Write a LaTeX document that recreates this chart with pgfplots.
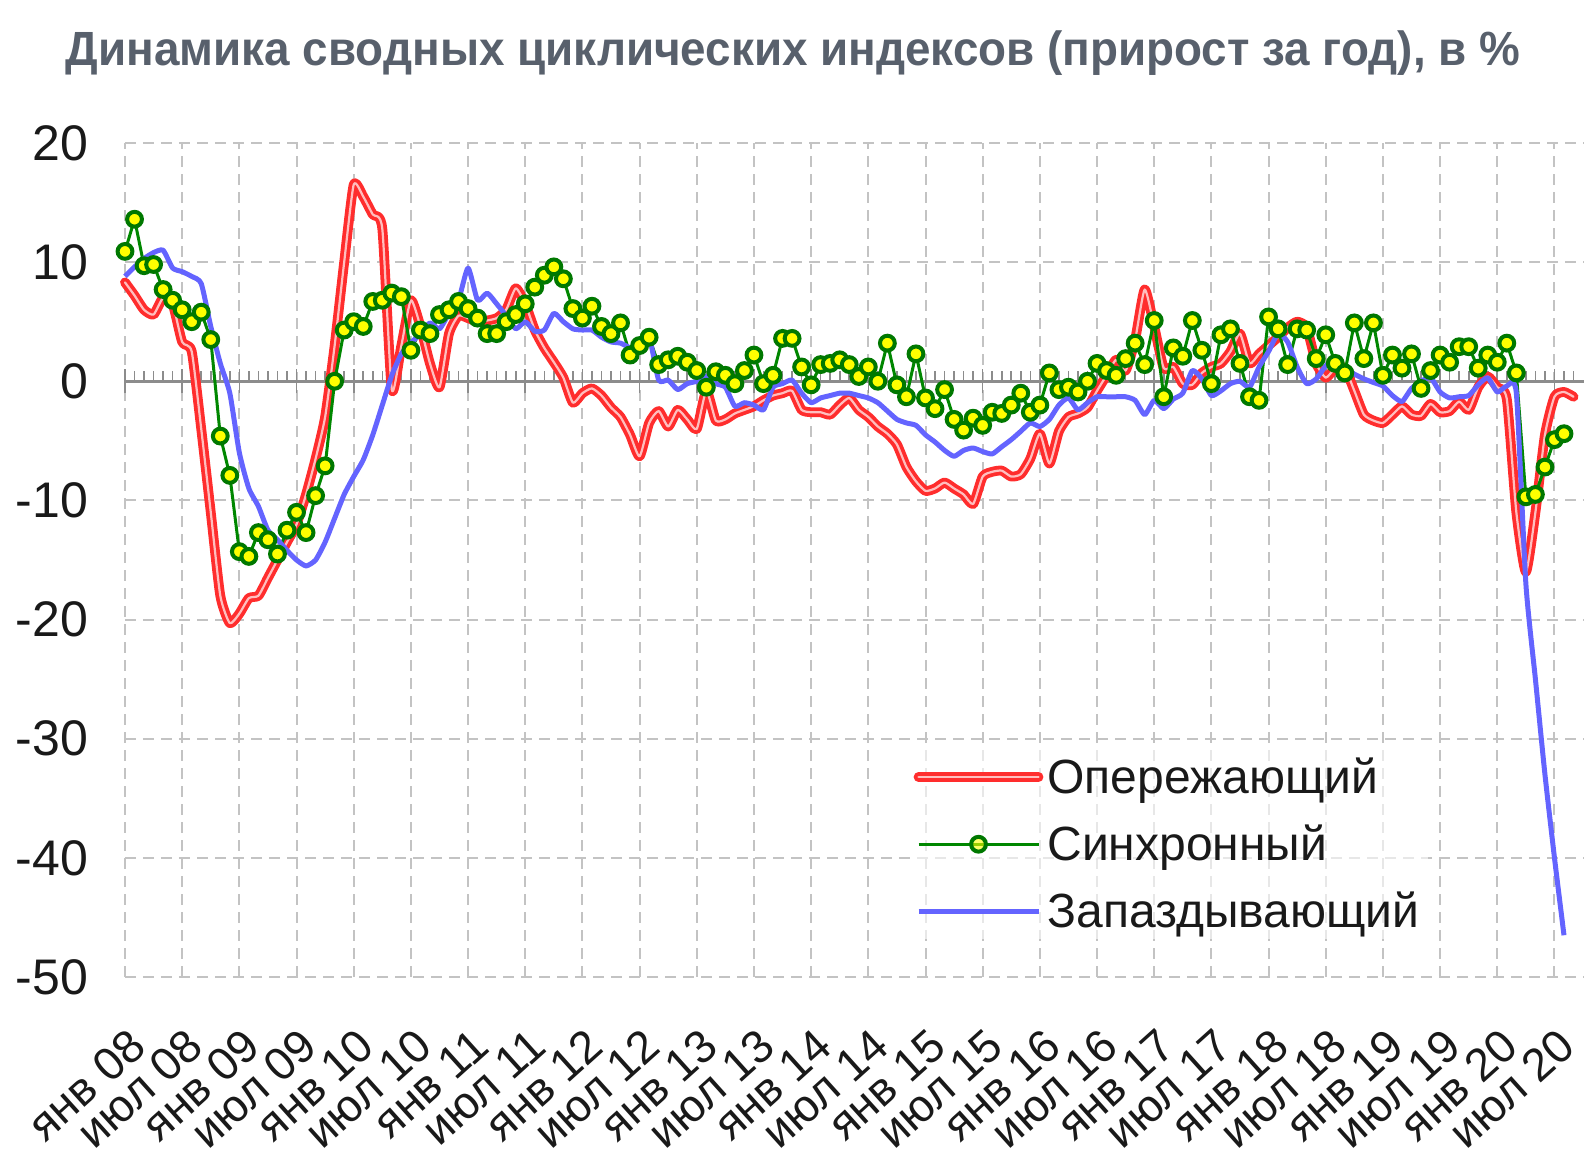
\documentclass[border=0pt]{standalone}
\usepackage{fontspec}
\setmainfont{Liberation Sans}
\usepackage{graphicx}
\usepackage{pgfplots}
\pgfplotsset{compat=1.18}
\definecolor{redc}{RGB}{255,45,45}
\definecolor{redin}{RGB}{255,190,190}
\definecolor{greenc}{RGB}{0,135,0}
\definecolor{markc}{RGB}{0,120,0}
\definecolor{yel}{RGB}{255,255,0}
\definecolor{bluec}{RGB}{100,100,255}
\definecolor{gridc}{RGB}{195,195,195}
\definecolor{zeroc}{RGB}{140,140,140}
\definecolor{titlec}{RGB}{88,96,108}
\definecolor{labc}{RGB}{25,25,25}
\begin{document}
\begin{tikzpicture}
\pgfplotsset{base/.style={scale only axis, width=729.5pt, height=417pt,
  xmin=0, xmax=153.1, ymin=-50, ymax=20}}
% grid and tick labels
\begin{axis}[base, axis line style={draw=none},
  xtick={0,6,...,150}, ytick={-50,-40,...,20},
  grid=major, grid style={gridc, line width=1pt, dash pattern=on 5.5pt off 3.5pt},
  major tick length=0pt,
  xticklabels={янв 08,июл 08,янв 09,июл 09,янв 10,июл 10,янв 11,июл 11,янв 12,июл 12,янв 13,июл 13,янв 14,июл 14,янв 15,июл 15,янв 16,июл 16,янв 17,июл 17,янв 18,июл 18,янв 19,июл 19,янв 20,июл 20},
  yticklabels={-50,-40,-30,-20,-10,0,10,20},
  yticklabel style={font=\fontsize{25}{29}\selectfont, text=labc, xshift=-15pt},
  xticklabel style={font=\fontsize{23}{27}\selectfont, text=labc, xshift=1pt, yshift=-23pt, rotate=42, anchor=north east, inner sep=1pt}]
\coordinate (ll) at (rel axis cs:0,0);
\coordinate (ur) at (rel axis cs:1,1);
\end{axis}
% zero line
\begin{axis}[base, axis x line=middle, axis y line=none,
  xtick={0,...,152}, xticklabels={}, ytick=\empty,
  tick align=inside, major tick length=5pt,
  tick style={color=zeroc, line width=0.8pt},
  extra x ticks={0,6,...,150}, extra x tick labels={},
  extra x tick style={tick align=center, major tick length=12pt},
  x axis line style={-, color=zeroc, line width=1.3pt}]
\end{axis}
% data
\begin{axis}[base, hide axis, clip=false,
  legend style={at={(0.5375,0.273)}, anchor=north west, draw=none,
    fill=white, fill opacity=0.6, text opacity=1,
    font=\fontsize{24}{28}\selectfont, text=labc,
    row sep=10.3pt, inner sep=2pt},
  legend cell align=left,
  legend image code/.code={\draw[mark repeat=2, mark phase=2, #1] plot coordinates {(0pt,0pt) (30pt,0pt) (60pt,0pt)};}]
\addplot[draw=redc, line width=1.9pt, double=redin, double distance=1.1pt, line join=round, line cap=round, smooth, tension=0.35] coordinates {
(0,8.3)(1,7.2)(2,6.0)(3,5.6)(4,7.0)(5,6.5)(6,3.3)(7,2.5)(8,-4)(9,-11)(10,-18)(11,-20.3)(12,-19.5)(13,-18.2)(14,-18.0)(15,-16.5)(16,-15.0)(17,-13.5)(18,-12.0)(19,-9.5)(20,-6.5)(21,-3.0)(22,3.0)(23,10.0)(24,16.5)(25,15.5)(26,14.0)(27,12.8)(28,-0.7)(29,3.0)(30,6.8)(31,4.6)(32,1.5)(33,-0.5)(34,4.0)(35,5.5)(36,5.3)(37,5.0)(38,5.1)(39,5.3)(40,6.0)(41,7.8)(42,6.5)(43,4.3)(44,2.8)(45,1.6)(46,0.3)(47,-1.8)(48,-1.0)(49,-0.6)(50,-1.2)(51,-2.2)(52,-3.0)(53,-4.5)(54,-6.3)(55,-3.5)(56,-2.5)(57,-3.8)(58,-2.4)(59,-3.2)(60,-4.0)(61,-0.8)(62,-3.3)(63,-3.2)(64,-2.7)(65,-2.4)(66,-2.1)(67,-1.6)(68,-1.2)(69,-1.0)(70,-0.8)(71,-2.4)(72,-2.6)(73,-2.6)(74,-2.8)(75,-2.0)(76,-1.4)(77,-2.4)(78,-3.0)(79,-3.8)(80,-4.4)(81,-5.3)(82,-7.2)(83,-8.4)(84,-9.2)(85,-9.0)(86,-8.5)(87,-9.0)(88,-9.5)(89,-10.3)(90,-8.0)(91,-7.6)(92,-7.5)(93,-8.0)(94,-7.8)(95,-6.5)(96,-4.4)(97,-6.9)(98,-4.2)(99,-3.0)(100,-2.7)(101,-2.2)(102,-0.8)(103,0.5)(104,1.8)(105,0.9)(106,3.5)(107,7.7)(108,4.6)(109,1.1)(110,1.2)(111,-0.2)(112,-0.3)(113,0.7)(114,1.2)(115,1.5)(116,2.5)(117,4.0)(118,1.5)(119,2.3)(120,3.0)(121,3.7)(122,4.5)(123,5.0)(124,4.5)(125,1.5)(126,0.3)(127,1.1)(128,1.1)(129,-0.8)(130,-2.8)(131,-3.3)(132,-3.5)(133,-2.8)(134,-2.1)(135,-2.8)(136,-2.9)(137,-1.9)(138,-2.6)(139,-2.5)(140,-1.7)(141,-2.4)(142,-0.5)(143,0.4)(144,-0.5)(145,-1.5)(146,-11)(147,-16)(148,-11)(149,-4.5)(150,-1.3)(151,-0.9)(152,-1.3)
};
\addlegendentry{Опережающий}
\addplot[draw=greenc, line width=1.5pt, mark=*, mark size=3.7pt, mark options={fill=yel, draw=markc, line width=2pt}] coordinates {
(0,10.9)(1,13.6)(2,9.7)(3,9.8)(4,7.7)(5,6.8)(6,6.0)(7,5.0)(8,5.8)(9,3.5)(10,-4.6)(11,-7.9)(12,-14.3)(13,-14.7)(14,-12.7)(15,-13.3)(16,-14.5)(17,-12.5)(18,-11.0)(19,-12.7)(20,-9.6)(21,-7.1)(22,0.0)(23,4.3)(24,5.0)(25,4.6)(26,6.7)(27,6.8)(28,7.4)(29,7.1)(30,2.6)(31,4.3)(32,4.0)(33,5.6)(34,6.0)(35,6.7)(36,6.1)(37,5.3)(38,4.0)(39,4.0)(40,5.0)(41,5.6)(42,6.5)(43,7.9)(44,8.9)(45,9.6)(46,8.6)(47,6.1)(48,5.3)(49,6.3)(50,4.6)(51,4.0)(52,4.9)(53,2.2)(54,3.0)(55,3.7)(56,1.4)(57,1.8)(58,2.1)(59,1.6)(60,0.9)(61,-0.5)(62,0.8)(63,0.5)(64,-0.2)(65,0.9)(66,2.2)(67,-0.2)(68,0.5)(69,3.6)(70,3.6)(71,1.2)(72,-0.3)(73,1.4)(74,1.5)(75,1.8)(76,1.4)(77,0.4)(78,1.2)(79,0.0)(80,3.2)(81,-0.3)(82,-1.3)(83,2.3)(84,-1.4)(85,-2.3)(86,-0.7)(87,-3.2)(88,-4.1)(89,-3.1)(90,-3.7)(91,-2.6)(92,-2.7)(93,-2.0)(94,-1.0)(95,-2.6)(96,-2.0)(97,0.7)(98,-0.7)(99,-0.5)(100,-0.9)(101,0.0)(102,1.5)(103,0.9)(104,0.5)(105,1.9)(106,3.2)(107,1.4)(108,5.1)(109,-1.3)(110,2.8)(111,2.1)(112,5.1)(113,2.6)(114,-0.2)(115,3.9)(116,4.4)(117,1.5)(118,-1.3)(119,-1.6)(120,5.4)(121,4.4)(122,1.4)(123,4.4)(124,4.3)(125,1.9)(126,3.9)(127,1.5)(128,0.7)(129,4.9)(130,1.9)(131,4.9)(132,0.5)(133,2.2)(134,1.1)(135,2.3)(136,-0.6)(137,0.9)(138,2.2)(139,1.6)(140,2.9)(141,2.9)(142,1.1)(143,2.2)(144,1.6)(145,3.2)(146,0.7)(147,-9.7)(148,-9.5)(149,-7.2)(150,-4.9)(151,-4.4)
};
\addlegendentry{Синхронный}
\addplot[draw=bluec, line width=2.5pt, line join=round, smooth, tension=0.35] coordinates {
(0,8.8)(1,9.6)(2,10.3)(3,10.8)(4,11.0)(5,9.5)(6,9.2)(7,8.8)(8,8.2)(9,4.6)(10,1.5)(11,-1.0)(12,-6.0)(13,-9.0)(14,-10.5)(15,-12.5)(16,-13.3)(17,-14.2)(18,-15.0)(19,-15.5)(20,-15.0)(21,-13.5)(22,-11.5)(23,-9.5)(24,-8.0)(25,-6.6)(26,-4.5)(27,-2.0)(28,0.5)(29,2.3)(30,3.2)(31,4.0)(32,4.9)(33,4.4)(34,5.7)(35,6.8)(36,9.5)(37,6.8)(38,7.4)(39,6.5)(40,5.5)(41,4.4)(42,5.0)(43,4.2)(44,4.3)(45,5.7)(46,5.0)(47,4.4)(48,4.3)(49,4.3)(50,3.7)(51,3.3)(52,3.2)(53,2.8)(54,2.6)(55,3.7)(56,0.1)(57,0.1)(58,-0.7)(59,-0.2)(60,0.0)(61,0.4)(62,-0.2)(63,-0.5)(64,-2.1)(65,-1.8)(66,-2.0)(67,-2.4)(68,-0.5)(69,-0.2)(70,0.1)(71,-1.0)(72,-1.8)(73,-1.4)(74,-1.2)(75,-1.0)(76,-1.0)(77,-1.2)(78,-1.4)(79,-1.8)(80,-2.5)(81,-3.2)(82,-3.5)(83,-3.7)(84,-4.5)(85,-5.1)(86,-5.8)(87,-6.3)(88,-5.8)(89,-5.6)(90,-5.9)(91,-6.1)(92,-5.5)(93,-4.9)(94,-4.2)(95,-3.5)(96,-3.8)(97,-3.2)(98,-2.0)(99,-1.4)(100,-2.4)(101,-1.8)(102,-1.3)(103,-1.3)(104,-1.3)(105,-1.3)(106,-1.6)(107,-2.8)(108,-1.6)(109,-2.3)(110,-1.5)(111,-1.0)(112,0.9)(113,0.2)(114,-1.2)(115,-0.8)(116,-0.2)(117,0.0)(118,-0.5)(119,1.2)(120,2.5)(121,4.0)(122,3.3)(123,1.2)(124,-0.2)(125,0.2)(126,1.3)(127,1.9)(128,1.1)(129,0.6)(130,0.2)(131,-0.1)(132,-0.4)(133,-1.2)(134,-1.7)(135,-0.6)(136,0.0)(137,0.3)(138,-0.9)(139,-1.4)(140,-1.3)(141,-1.2)(142,-0.3)(143,0.3)(144,-0.9)(145,-0.4)(146,-1.0)(147,-17)(148,-25)(149,-33)(150,-40)(151,-46.5)
};
\addlegendentry{Запаздывающий}
\end{axis}
\node[text=titlec, font=\bfseries\fontsize{24}{28}\selectfont] at ([shift={(334pt,462pt)}]ll) {\resizebox{727pt}{\height}{Динамика сводных циклических индексов (прирост за год), в \%}};
\pgfresetboundingbox
\path ([shift={(-62.5pt,-92pt)}]ll) rectangle ([shift={(0pt,71.5pt)}]ur);
\end{tikzpicture}
\end{document}
